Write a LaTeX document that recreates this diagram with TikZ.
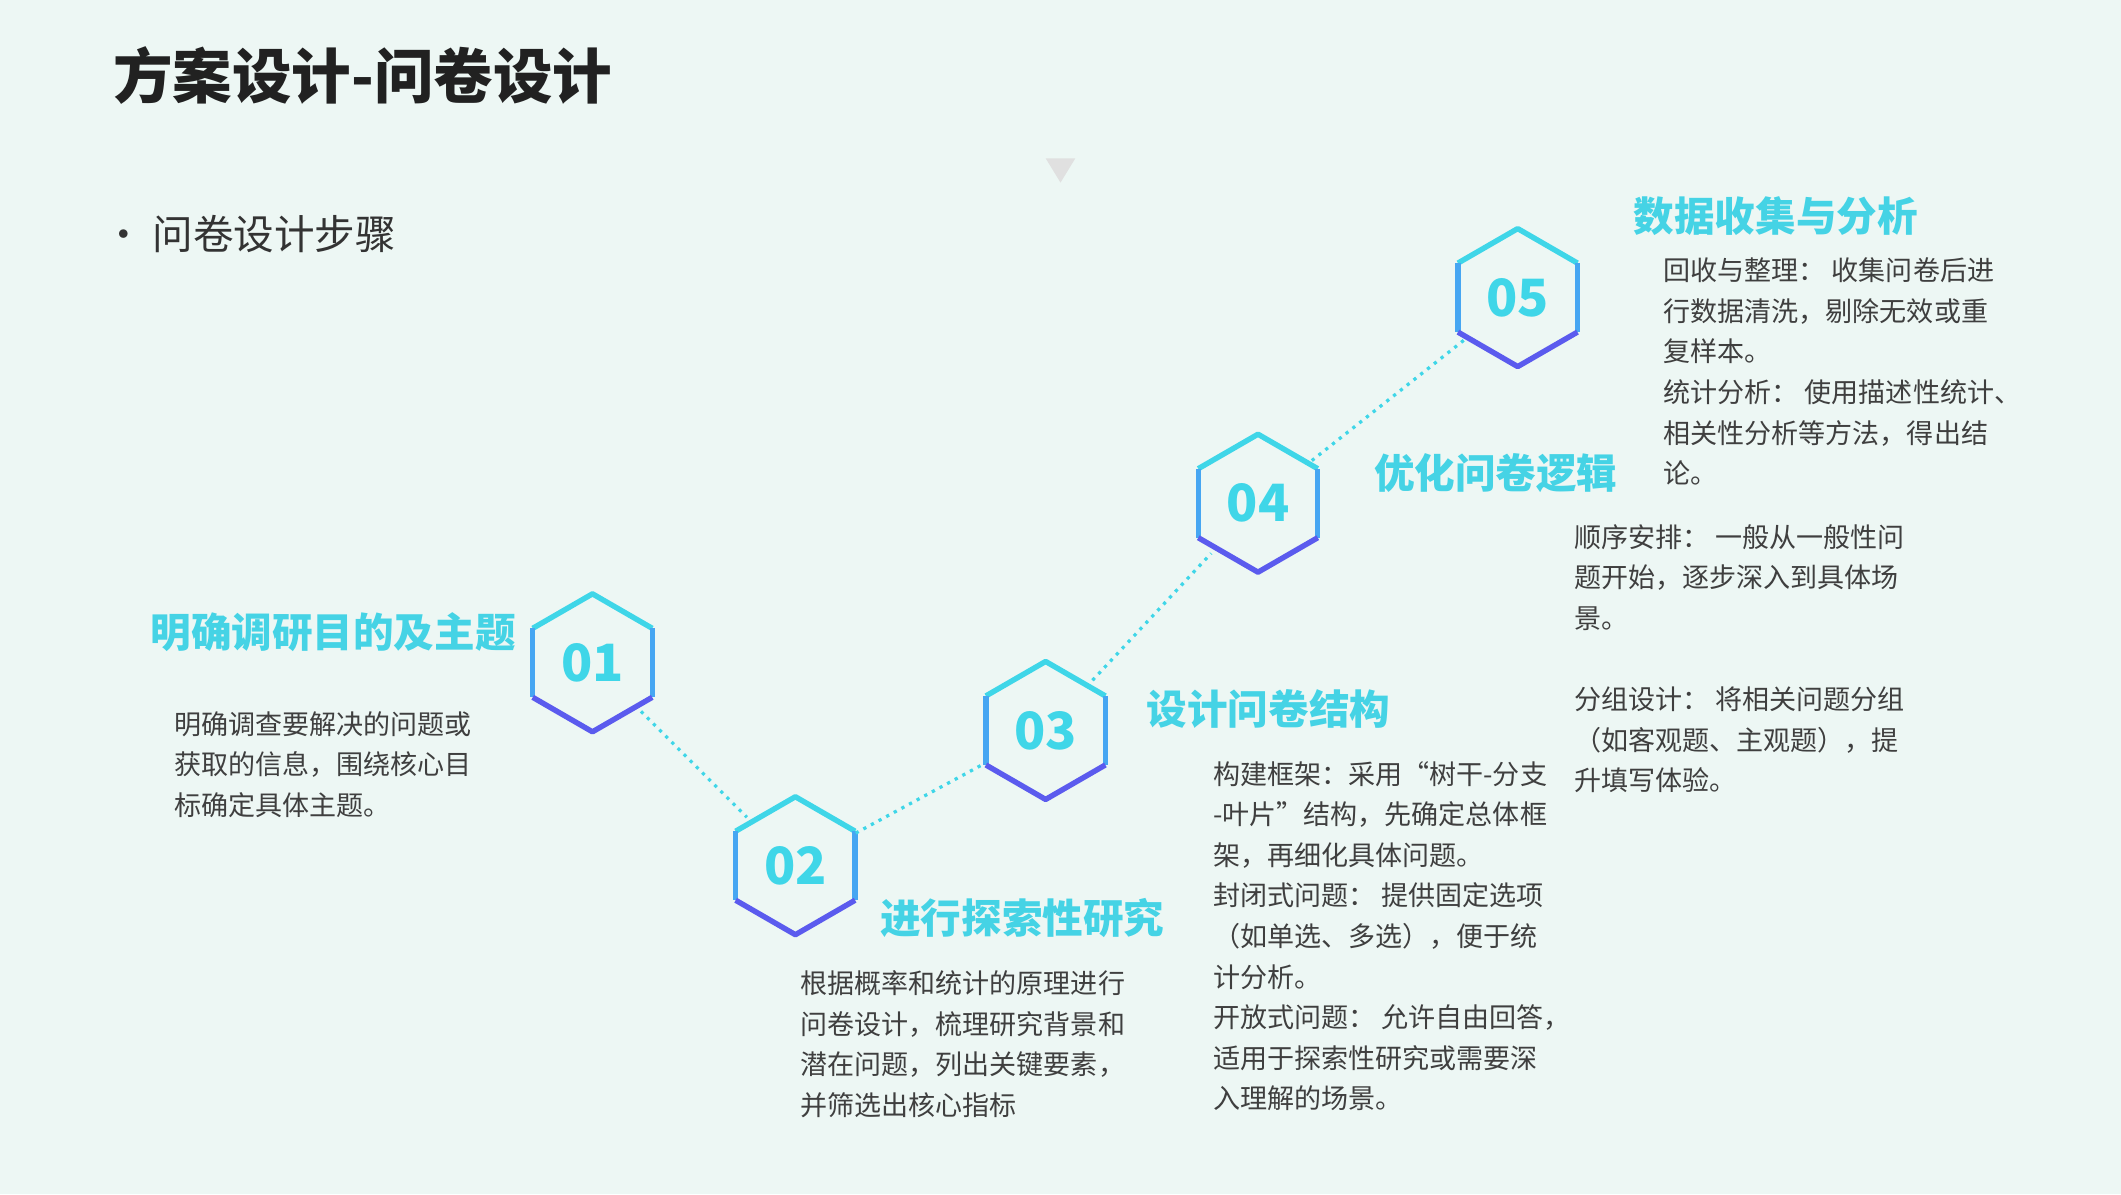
\documentclass[tikz,border=0pt]{standalone}
\usepackage{fontspec}
\setmainfont{Noto Sans CJK SC}
\usetikzlibrary{positioning}
\definecolor{bgmint}{HTML}{EDF7F4}
\definecolor{hexcyan}{HTML}{3FD6E8}
\definecolor{hexmid}{HTML}{46A6F2}
\definecolor{hexblue}{HTML}{5B5BEE}
\definecolor{steptitle}{HTML}{45D3E5}
\definecolor{bodygray}{HTML}{3F3F3F}
\tikzset{every picture/.style={line width=0.75pt}}
\tikzset{
  hexnode/.style={circle,minimum size=50pt,inner sep=0pt,text=hexcyan,font=\fontsize{19pt}{19pt}\selectfont\bfseries},
  steplabel/.style={inner sep=0pt,text=steptitle,font=\fontsize{15pt}{15pt}\selectfont\bfseries},
  stepbody/.style={anchor=north west,inner sep=0pt,align=left,text=bodygray,font=\fontsize{10pt}{15pt}\selectfont},
  link/.style={hexcyan,dotted,line width=1.2pt}
}
% y axis points down: 270 is the top corner
\newcommand{\hexframe}[1]{%
  \draw[hexcyan,line width=2pt,line join=round] (#1)+(330:51) -- +(270:51) -- +(210:51);
  \draw[hexmid,line width=2pt] (#1)+(210:51) -- +(150:51);
  \draw[hexmid,line width=2pt] (#1)+(30:51) -- +(330:51);
  \draw[hexblue,line width=2pt,line join=round] (#1)+(150:51) -- +(90:51) -- +(30:51);
}
\begin{document}
\begin{tikzpicture}[x=0.5pt,y=0.5pt,yscale=-1,xscale=1]
  \fill[bgmint] (0,0) rectangle (1568,883);
  \useasboundingbox (0,0) rectangle (1568,883);

  % heading
  \node[anchor=west,inner sep=0pt,text=black!87,font=\fontsize{22pt}{22pt}\selectfont\bfseries] (title) at (83,56) {方案设计-问卷设计};
  \node[anchor=west,inner sep=0pt,text=black!80,font=\fontsize{15pt}{15pt}\selectfont] (bullet) at (76,173) {•\hspace{3pt}问卷设计步骤};
  \fill[black!12] (773,117) -- (795,117) -- (784,135) -- cycle;

  % steps
  \node[hexnode] (s1) at (438,490) {01};
  \node[hexnode] (s2) at (588,640) {02};
  \node[hexnode] (s3) at (773,540) {03};
  \node[hexnode] (s4) at (930,372) {04};
  \node[hexnode] (s5) at (1122,220) {05};
  \foreach \s in {s1,s2,s3,s4,s5} {\hexframe{\s}}

  \draw[link] (s1) -- (s2);
  \draw[link] (s2) -- (s3);
  \draw[link] (s3) -- (s4);
  \draw[link] (s4) -- (s5);

  % titles
  \node[steplabel,anchor=east] (t1) at (382,467) {明确调研目的及主题};
  \node[steplabel,anchor=west] (t2) at (650,679) {进行探索性研究};
  \node[steplabel,anchor=west] (t3) at (847,524) {设计问卷结构};
  \node[steplabel,anchor=west] (t4) at (1015,350) {优化问卷逻辑};
  \node[steplabel,anchor=west] (t5) at (1207,160) {数据收集与分析};

  % texts
  \node[stepbody] (b1) at (128,525) {明确调查要解决的问题或\\获取的信息，围绕核心目\\标确定具体主题。};
  \node[stepbody] (b2) at (591,717) {根据概率和统计的原理进行\\问卷设计，梳理研究背景和\\潜在问题，列出关键要素，\\并筛选出核心指标};
  \node[stepbody] (b3) at (896,562) {构建框架：采用“树干-分支\\-叶片”结构，先确定总体框\\架，再细化具体问题。\\封闭式问题： 提供固定选项\\（如单选、多选），便于统\\计分析。\\开放式问题： 允许自由回答，\\适用于探索性研究或需要深\\入理解的场景。};
  \node[stepbody] (b4) at (1163,387) {顺序安排： 一般从一般性问\\题开始，逐步深入到具体场\\景。\\[15pt]分组设计： 将相关问题分组\\（如客观题、主观题），提\\升填写体验。};
  \node[stepbody] (b5) at (1229,190) {回收与整理： 收集问卷后进\\行数据清洗，剔除无效或重\\复样本。\\统计分析： 使用描述性统计、\\相关性分析等方法，得出结\\论。};
\end{tikzpicture}
\end{document}
